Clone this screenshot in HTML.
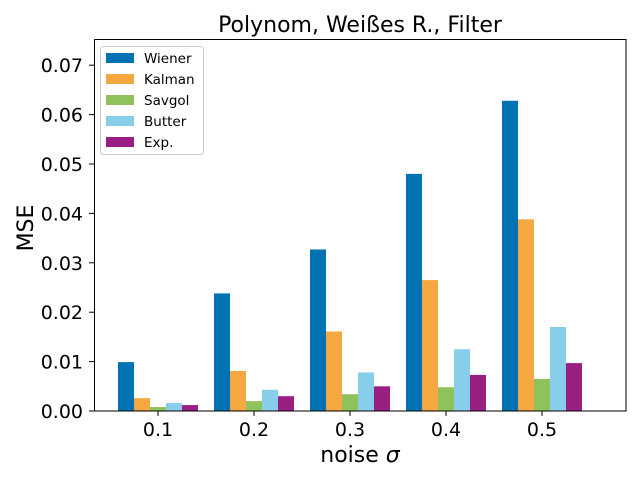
<!DOCTYPE html>
<html><head><meta charset="utf-8"><style>
body{margin:0;background:#fff}
svg{font-family:"DejaVu Sans","Liberation Sans",sans-serif}
</style></head><body>
<svg id="chart" width="640" height="480">
<text x="360" y="32" font-size="22" text-anchor="middle">Polynom, Weißes R., Filter</text>
<g id="bars"></g>
<rect x="94.5" y="39.5" width="531.5" height="371.5" fill="none" stroke="#000" stroke-width="1"/>
<g id="axes"></g>
<text x="360" y="462" font-size="22" text-anchor="middle">noise <tspan font-style="italic">σ</tspan></text>
<text transform="translate(33,228) rotate(-90)" font-size="22" text-anchor="middle">MSE</text>
<g id="legend"></g>
</svg>
<script>
const categories=["0.1","0.2","0.3","0.4","0.5"];
const seriesNames=["Wiener","Kalman","Savgol","Butter","Exp."];
const wiener=[0.0099,0.0238,0.0327,0.0480,0.0628];
const kalman=[0.0026,0.0081,0.0161,0.0265,0.0388];
const savgol=[0.0008,0.0020,0.0034,0.0048,0.0065];
const butter=[0.0016,0.0043,0.0078,0.0125,0.0170];
const expo=[0.0012,0.0030,0.0050,0.0073,0.0097];
const yTicks=[0,0.01,0.02,0.03,0.04,0.05,0.06,0.07];
const yTickLabels=["0.00","0.01","0.02","0.03","0.04","0.05","0.06","0.07"];
const series=[wiener,kalman,savgol,butter,expo];
const colors=["#0173b2","#f5a742","#8fc25a","#87ceeb","#9b1e83"];
const NS="http://www.w3.org/2000/svg";
const y=v=>411-v*4940;
const xc=i=>158+i*96;
const bw=16;
function mk(tag,attrs,parent){const e=document.createElementNS(NS,tag);for(const k in attrs)e.setAttribute(k,attrs[k]);parent.appendChild(e);return e;}
const bars=document.getElementById('bars');
series.forEach((s,si)=>{s.forEach((v,i)=>{
 const r=mk('rect',{x:xc(i)-40+si*bw,y:y(v),width:bw,height:411-y(v),fill:colors[si]},bars);
 
 
});});
const axes=document.getElementById('axes');
yTicks.forEach((t,i)=>{
 const l=mk('line',{x1:89,x2:94,y1:y(t),y2:y(t),stroke:'#000'},axes);
 
 
 const tx=mk('text',{x:83,y:y(t)+7,'font-size':19,'text-anchor':'end'},axes);
 tx.textContent=yTickLabels[i];
 
 
});
categories.forEach((c,i)=>{
 const l=mk('line',{x1:xc(i),x2:xc(i),y1:411,y2:416,stroke:'#000'},axes);
 
 
 const tx=mk('text',{x:xc(i),y:436,'font-size':19,'text-anchor':'middle'},axes);
 tx.textContent=c;
 
 
});
const lg=document.getElementById('legend');


mk('rect',{x:100.5,y:46.5,width:103,height:108,rx:3,fill:'#fff','fill-opacity':0.8,stroke:'#ccc'},lg);
seriesNames.forEach((n,i)=>{
 const g=mk('g',{},lg);
 
 
 mk('rect',{x:106,y:53+i*21,width:28,height:10,fill:colors[i]},g);
 const t=mk('text',{x:144,y:63+i*21,'font-size':13.5},g);
 t.textContent=n;
});
</script>
</body></html>
